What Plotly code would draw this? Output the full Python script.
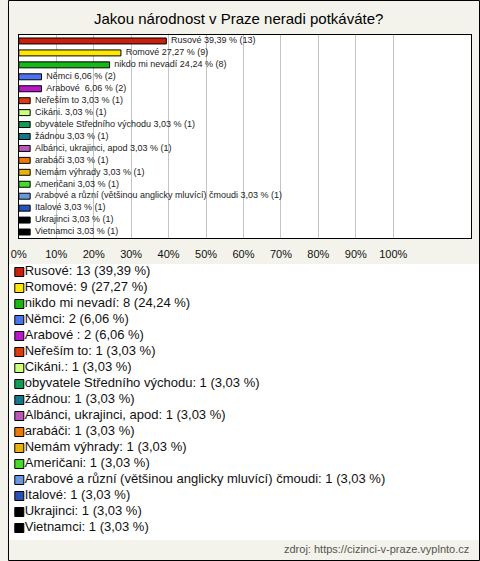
import plotly.graph_objects as go

# ---- data ----
categories = ["Rusové", "Romové", "nikdo mi nevadí", "Němci", "Arabové ", "Neřeším to",
              "Cikáni.", "obyvatele Středního východu", "žádnou", "Albánci, ukrajinci, apod",
              "arabáči", "Nemám výhrady", "Američani",
              "Arabové a různí (většinou anglicky mluvící) čmoudi", "Italové", "Ukrajinci", "Vietnamci"]
counts = [13, 9, 8, 2, 2, 1, 1, 1, 1, 1, 1, 1, 1, 1, 1, 1, 1]
percents = [39.39, 27.27, 24.24, 6.06, 6.06, 3.03, 3.03, 3.03, 3.03, 3.03, 3.03, 3.03, 3.03, 3.03, 3.03, 3.03, 3.03]
colors = ["#C8200C", "#FFE800", "#16B816", "#4A74EE", "#B818C8", "#DC3A0C", "#CCFF7A", "#129A58",
          "#14788A", "#B858B8", "#EC7A08", "#E8B208", "#44DC28", "#6A98DC", "#2652B8", "#000000", "#000000"]
tick_vals = [0, 10, 20, 30, 40, 50, 60, 70, 80, 90, 100]
tick_text = ["0%", "10%", "20%", "30%", "40%", "50%", "60%", "70%", "80%", "90%", "100%"]
title_text = "Jakou národnost v Praze neradi potkáváte?"
source_text = "zdroj: https://cizinci-v-praze.vyplnto.cz"

W, H = 480, 561
BG = "#F4F3EB"

def fmt(v):
    return f"{v:.2f}".replace(".", ",")

bar_labels = [f"{c} {fmt(p)} % ({n})" for c, p, n in zip(categories, percents, counts)]
legend_labels = [f"{c}: {n} ({fmt(p)} %)" for c, p, n in zip(categories, percents, counts)]
idx = list(range(len(categories)))

fig = go.Figure()

# bars
fig.add_trace(go.Bar(
    x=percents, y=idx, orientation="h",
    marker=dict(color=colors, line=dict(color="#000000", width=1)),
    width=0.5, hoverinfo="skip", showlegend=False,
    xaxis="x", yaxis="y",
))
# bar value labels
fig.add_trace(go.Scatter(
    x=percents, y=idx, mode="markers+text", text=bar_labels,
    textposition="middle right",
    marker=dict(size=6, color="rgba(0,0,0,0)"),
    textfont=dict(family="Liberation Sans, Arial", size=9, color="#222222"),
    hoverinfo="skip", showlegend=False, cliponaxis=False,
    xaxis="x", yaxis="y",
))
# custom legend (on a second pixel-scaled axis pair)
fig.add_trace(go.Scatter(
    x=[11.5] * len(categories), y=idx, mode="markers",
    marker=dict(symbol="square", size=9, color=colors, line=dict(color="#000000", width=1)),
    hoverinfo="skip", showlegend=False, cliponaxis=False,
    xaxis="x2", yaxis="y2",
))
fig.add_trace(go.Scatter(
    x=[17] * len(categories), y=idx, mode="text", text=legend_labels,
    textposition="middle right",
    textfont=dict(family="Liberation Sans, Arial", size=13, color="#111111"),
    hoverinfo="skip", showlegend=False, cliponaxis=False,
    xaxis="x2", yaxis="y2",
))

def py(p):
    return 1 - p / H

fig.update_layout(
    width=W, height=H,
    margin=dict(l=0, r=0, t=0, b=0),
    paper_bgcolor=BG, plot_bgcolor="#FFFFFF",
    showlegend=False,
    xaxis=dict(domain=[11 / W, 471 / W], range=[0, 120.8], tickvals=tick_vals, ticktext=tick_text,
               showgrid=True, gridcolor="#C4C4C4", gridwidth=1, zeroline=False,
               showline=True, linecolor="#000000", linewidth=1, mirror=True,
               ticks="", ticklabelstandoff=6,
               tickfont=dict(family="Liberation Sans, Arial", size=11, color="#111111"),
               fixedrange=True),
    yaxis=dict(domain=[py(238), py(35)], range=[16.5, -0.5], showticklabels=False,
               showgrid=False, zeroline=False, showline=True, linecolor="#000000",
               linewidth=1, mirror=True, ticks="", fixedrange=True),
    xaxis2=dict(domain=[0, 1], range=[0, W], visible=False, anchor="y2", fixedrange=True),
    yaxis2=dict(domain=[py(540), py(264)], range=[16.75, -0.5], visible=False, anchor="x2",
                fixedrange=True),
    annotations=[
        dict(text=title_text, x=234 / W, y=py(19), xref="paper", yref="paper",
             xanchor="center", yanchor="middle", showarrow=False,
             font=dict(family="Liberation Sans, Arial", size=15, color="#000000")),
        dict(text=source_text, x=471 / W, y=py(549), xref="paper", yref="paper",
             xanchor="right", yanchor="middle", showarrow=False,
             font=dict(family="Liberation Sans, Arial", size=11, color="#555555")),
    ],
    shapes=[
        dict(type="rect", xref="paper", yref="paper", x0=0.5 / W, x1=(W - 0.5) / W,
             y0=0.5 / H, y1=(H - 0.5) / H, line=dict(color="#000000", width=1),
             fillcolor="rgba(0,0,0,0)", layer="above"),
    ],
)

fig.write_html("out.html", config={"displayModeBar": False},
               post_script="document.body.style.margin='0';document.body.style.padding='0';")
